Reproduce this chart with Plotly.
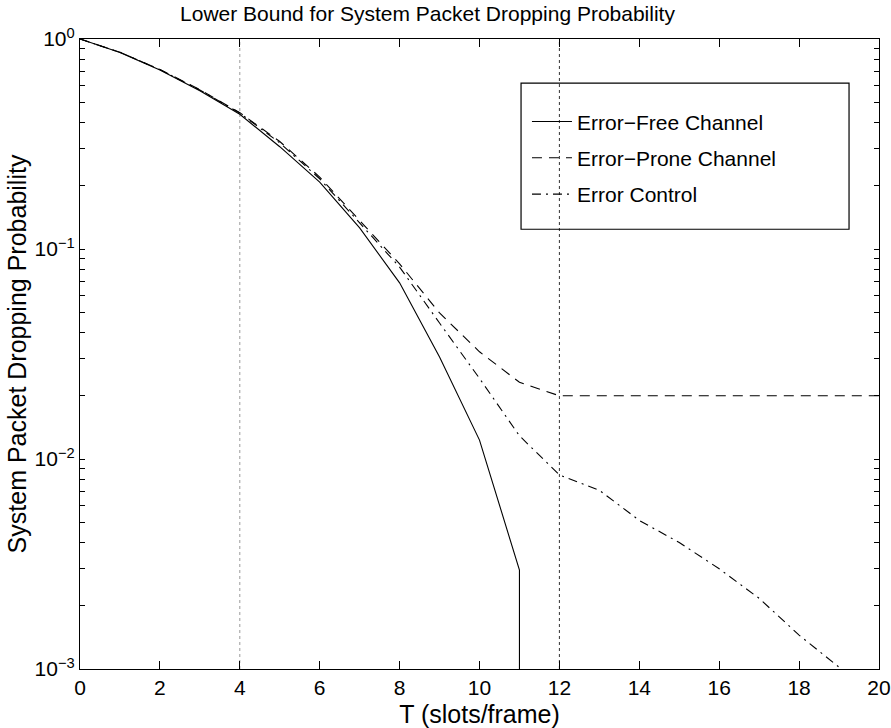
import plotly.graph_objects as go

# ---- data ----
T_free = [0, 1, 2, 3, 4, 5, 6, 7, 8, 9, 10, 11, 11]
p_free = [1.0, 0.862, 0.712, 0.567, 0.438, 0.307, 0.208, 0.126, 0.069, 0.0306, 0.0123, 0.00296, 1e-9]

T_prone = [0, 1, 2, 3, 4, 5, 6, 7, 8, 9, 10, 11, 12, 13, 14, 15, 16, 17, 18, 19, 20]
p_prone = [1.0, 0.864, 0.716, 0.574, 0.446, 0.325, 0.220, 0.136, 0.085, 0.0496, 0.0324, 0.0232, 0.0200,
           0.0200, 0.0200, 0.0200, 0.0200, 0.0200, 0.0200, 0.0200, 0.0200]

T_ctrl = [0, 1, 2, 3, 4, 5, 6, 7, 8, 9, 10, 11, 12, 13, 14, 15, 16, 17, 18, 19, 20]
p_ctrl = [1.0, 0.864, 0.715, 0.572, 0.444, 0.320, 0.216, 0.133, 0.082, 0.0444, 0.0242, 0.0129, 0.0084,
          0.0071, 0.0051, 0.0040, 0.0030, 0.00217, 0.00145, 0.00102, 0.00060]

series_names = ["Error\u2212Free Channel", "Error\u2212Prone Channel", "Error Control"]
ref_lines_x = [4, 12]

x_ticks = list(range(0, 21, 2))
y_major = [1e-3, 1e-2, 1e-1, 1e0]
y_major_labels = ["10<sup>\u22123</sup>", "10<sup>\u22122</sup>", "10<sup>\u22121</sup>", "10<sup>0</sup>"]

FONT = "Liberation Sans, Arial, Helvetica, sans-serif"
FS = 21

y_tickvals = []
y_ticktext = []
for k, base in enumerate(y_major[:-1]):
    for m in range(1, 10):
        y_tickvals.append(base * m)
        y_ticktext.append(y_major_labels[k] if m == 1 else "")
y_tickvals.append(y_major[-1])
y_ticktext.append(y_major_labels[-1])

fig = go.Figure()
fig.add_trace(go.Scatter(x=T_free, y=p_free, mode="lines", name=series_names[0],
                         line=dict(color="black", width=1.1, dash="solid"), legendgroup="a"))
fig.add_trace(go.Scatter(x=T_prone, y=p_prone, mode="lines", name=series_names[1],
                         line=dict(color="black", width=1.1, dash="10px,7px"), legendgroup="b"))
fig.add_trace(go.Scatter(x=T_ctrl, y=p_ctrl, mode="lines", name=series_names[2],
                         line=dict(color="black", width=1.1, dash="9px,5px,2px,5px"), legendgroup="c"))

shapes = []
for xv, col in zip(ref_lines_x, ["#9a9a9a", "#333333"]):
    shapes.append(dict(type="line", xref="x", yref="paper", x0=xv, x1=xv, y0=0, y1=1,
                       line=dict(color=col, width=1, dash="dot"), layer="below"))
# legend frame
shapes.append(dict(type="rect", xref="paper", yref="paper", x0=0.552, x1=0.9625, y0=0.698, y1=0.930,
                   line=dict(color="black", width=1.2), fillcolor="rgba(0,0,0,0)"))

fig.update_layout(
    width=891, height=728,
    margin=dict(l=80, r=12, t=39, b=59),
    paper_bgcolor="white", plot_bgcolor="white",
    font=dict(family=FONT, size=FS, color="black"),
    title=dict(text="Lower Bound for System Packet Dropping Probability", x=0.4798, xanchor="center",
               xref="container", yref="container", y=0.991, yanchor="top", font=dict(size=FS)),
    shapes=shapes,
    showlegend=True,
    legend=dict(x=0.5594, y=0.901, xanchor="left", yanchor="top", bgcolor="rgba(0,0,0,0)",
                borderwidth=0, font=dict(size=FS), traceorder="grouped", tracegroupgap=6,
                itemwidth=40),
    xaxis=dict(range=[0, 20], tickvals=x_ticks, ticks="inside", ticklen=8, tickcolor="black",
               showline=True, linecolor="black", linewidth=1.2, mirror="ticks", showgrid=False,
               zeroline=False, automargin=False, title=dict(text="T (slots/frame)", standoff=7),
               tickfont=dict(size=FS)),
    yaxis=dict(type="log", range=[-3, 0], tickvals=y_tickvals, ticktext=y_ticktext,
               ticks="inside", ticklen=5, tickcolor="black",
               showline=True, linecolor="black", linewidth=1.2, mirror="ticks", showgrid=False,
               zeroline=False, automargin=False,
               title=dict(text="System Packet Dropping Probability", standoff=0),
               tickfont=dict(size=FS)),
)

fig.write_html("out.html")
